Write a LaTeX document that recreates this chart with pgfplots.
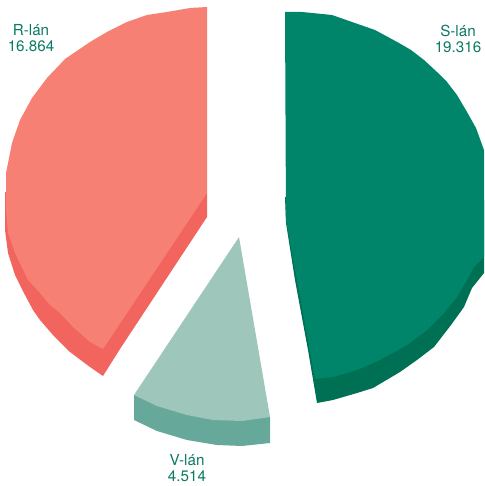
\documentclass[border=0pt]{standalone}
\usepackage{pgfplots}
\pgfplotsset{compat=1.18}
\usepackage{fontspec}
\setmainfont{TeX Gyre Heros}
\definecolor{rtop}{HTML}{F68074}
\definecolor{rside}{HTML}{F2655F}
\definecolor{vtop}{HTML}{9FC6BB}
\definecolor{vside}{HTML}{66A99A}
\definecolor{stop}{HTML}{00856A}
\definecolor{sside}{HTML}{007054}
\definecolor{labelc}{HTML}{0D7A64}
\begin{document}
\begin{tikzpicture}
\begin{axis}[
  name=pie, anchor=south west,
  scale only axis, width=484pt, height=486pt,
  xmin=0, xmax=484, ymin=0, ymax=486, y dir=reverse,
  hide axis, clip=true,
]
% R-lan
\addplot[fill=rside, draw=none] coordinates {(5,192) (5,230) (8,253) (15,275) (25,295) (33,310) (40,320) (53,335) (70,352) (90,367) (103,376) (120,349) (207,217) (207,193)} -- cycle;
\addplot[fill=rtop, draw=none] coordinates {(207,7) (190,8) (167,12) (147,15) (127,22) (107,32) (90,42) (65,59) (47,78) (32,98) (20,120) (12,143) (6,173) (6,210) (8,233) (15,253) (28,280) (40,293) (50,305) (60,313) (73,327) (90,342) (103,349) (207,193)} -- cycle;
% V-lan
\addplot[fill=vside, draw=none] coordinates {(134,395) (134,420) (157,431) (187,440) (217,445) (242,446) (270,443) (270,417)} -- cycle;
\addplot[fill=vtop, draw=none] coordinates {(239,237) (134,395) (157,406) (187,415) (213,420) (242,421) (270,417)} -- cycle;
% S-lan
\addplot[fill=sside, draw=none] coordinates {(285,197) (286,223) (295,280) (308,350) (317,403) (333,400) (357,393) (373,388) (400,372) (417,360) (434,347) (451,325) (464,307) (472,288) (484,273) (484,200)} -- cycle;
\addplot[fill=stop, draw=none] coordinates {(285,12) (302,12) (332,15) (352,22) (375,30) (399,43) (411,50) (424,60) (437,72) (447,82) (457,95) (467,112) (476,128) (484,150) (484,257) (474,267) (467,280) (457,297) (444,313) (427,330) (407,345) (380,360) (357,370) (333,377) (315,379) (286,220)} -- cycle;
% labels
\node[text=labelc, font=\fontsize{15.2}{16}\selectfont, align=center] at (axis cs:31,38.5) {R-lán\\16.864};
\node[text=labelc, font=\fontsize{15.2}{16}\selectfont, align=center] at (axis cs:458,38.5) {S-lán\\19.316};
\node[text=labelc, font=\fontsize{15.2}{16}\selectfont, align=center] at (axis cs:187,468) {V-lán\\4.514};
\end{axis}
% keep the page as large as the axis area
\path (pie.south west) rectangle (pie.north east);
\end{tikzpicture}
\end{document}
